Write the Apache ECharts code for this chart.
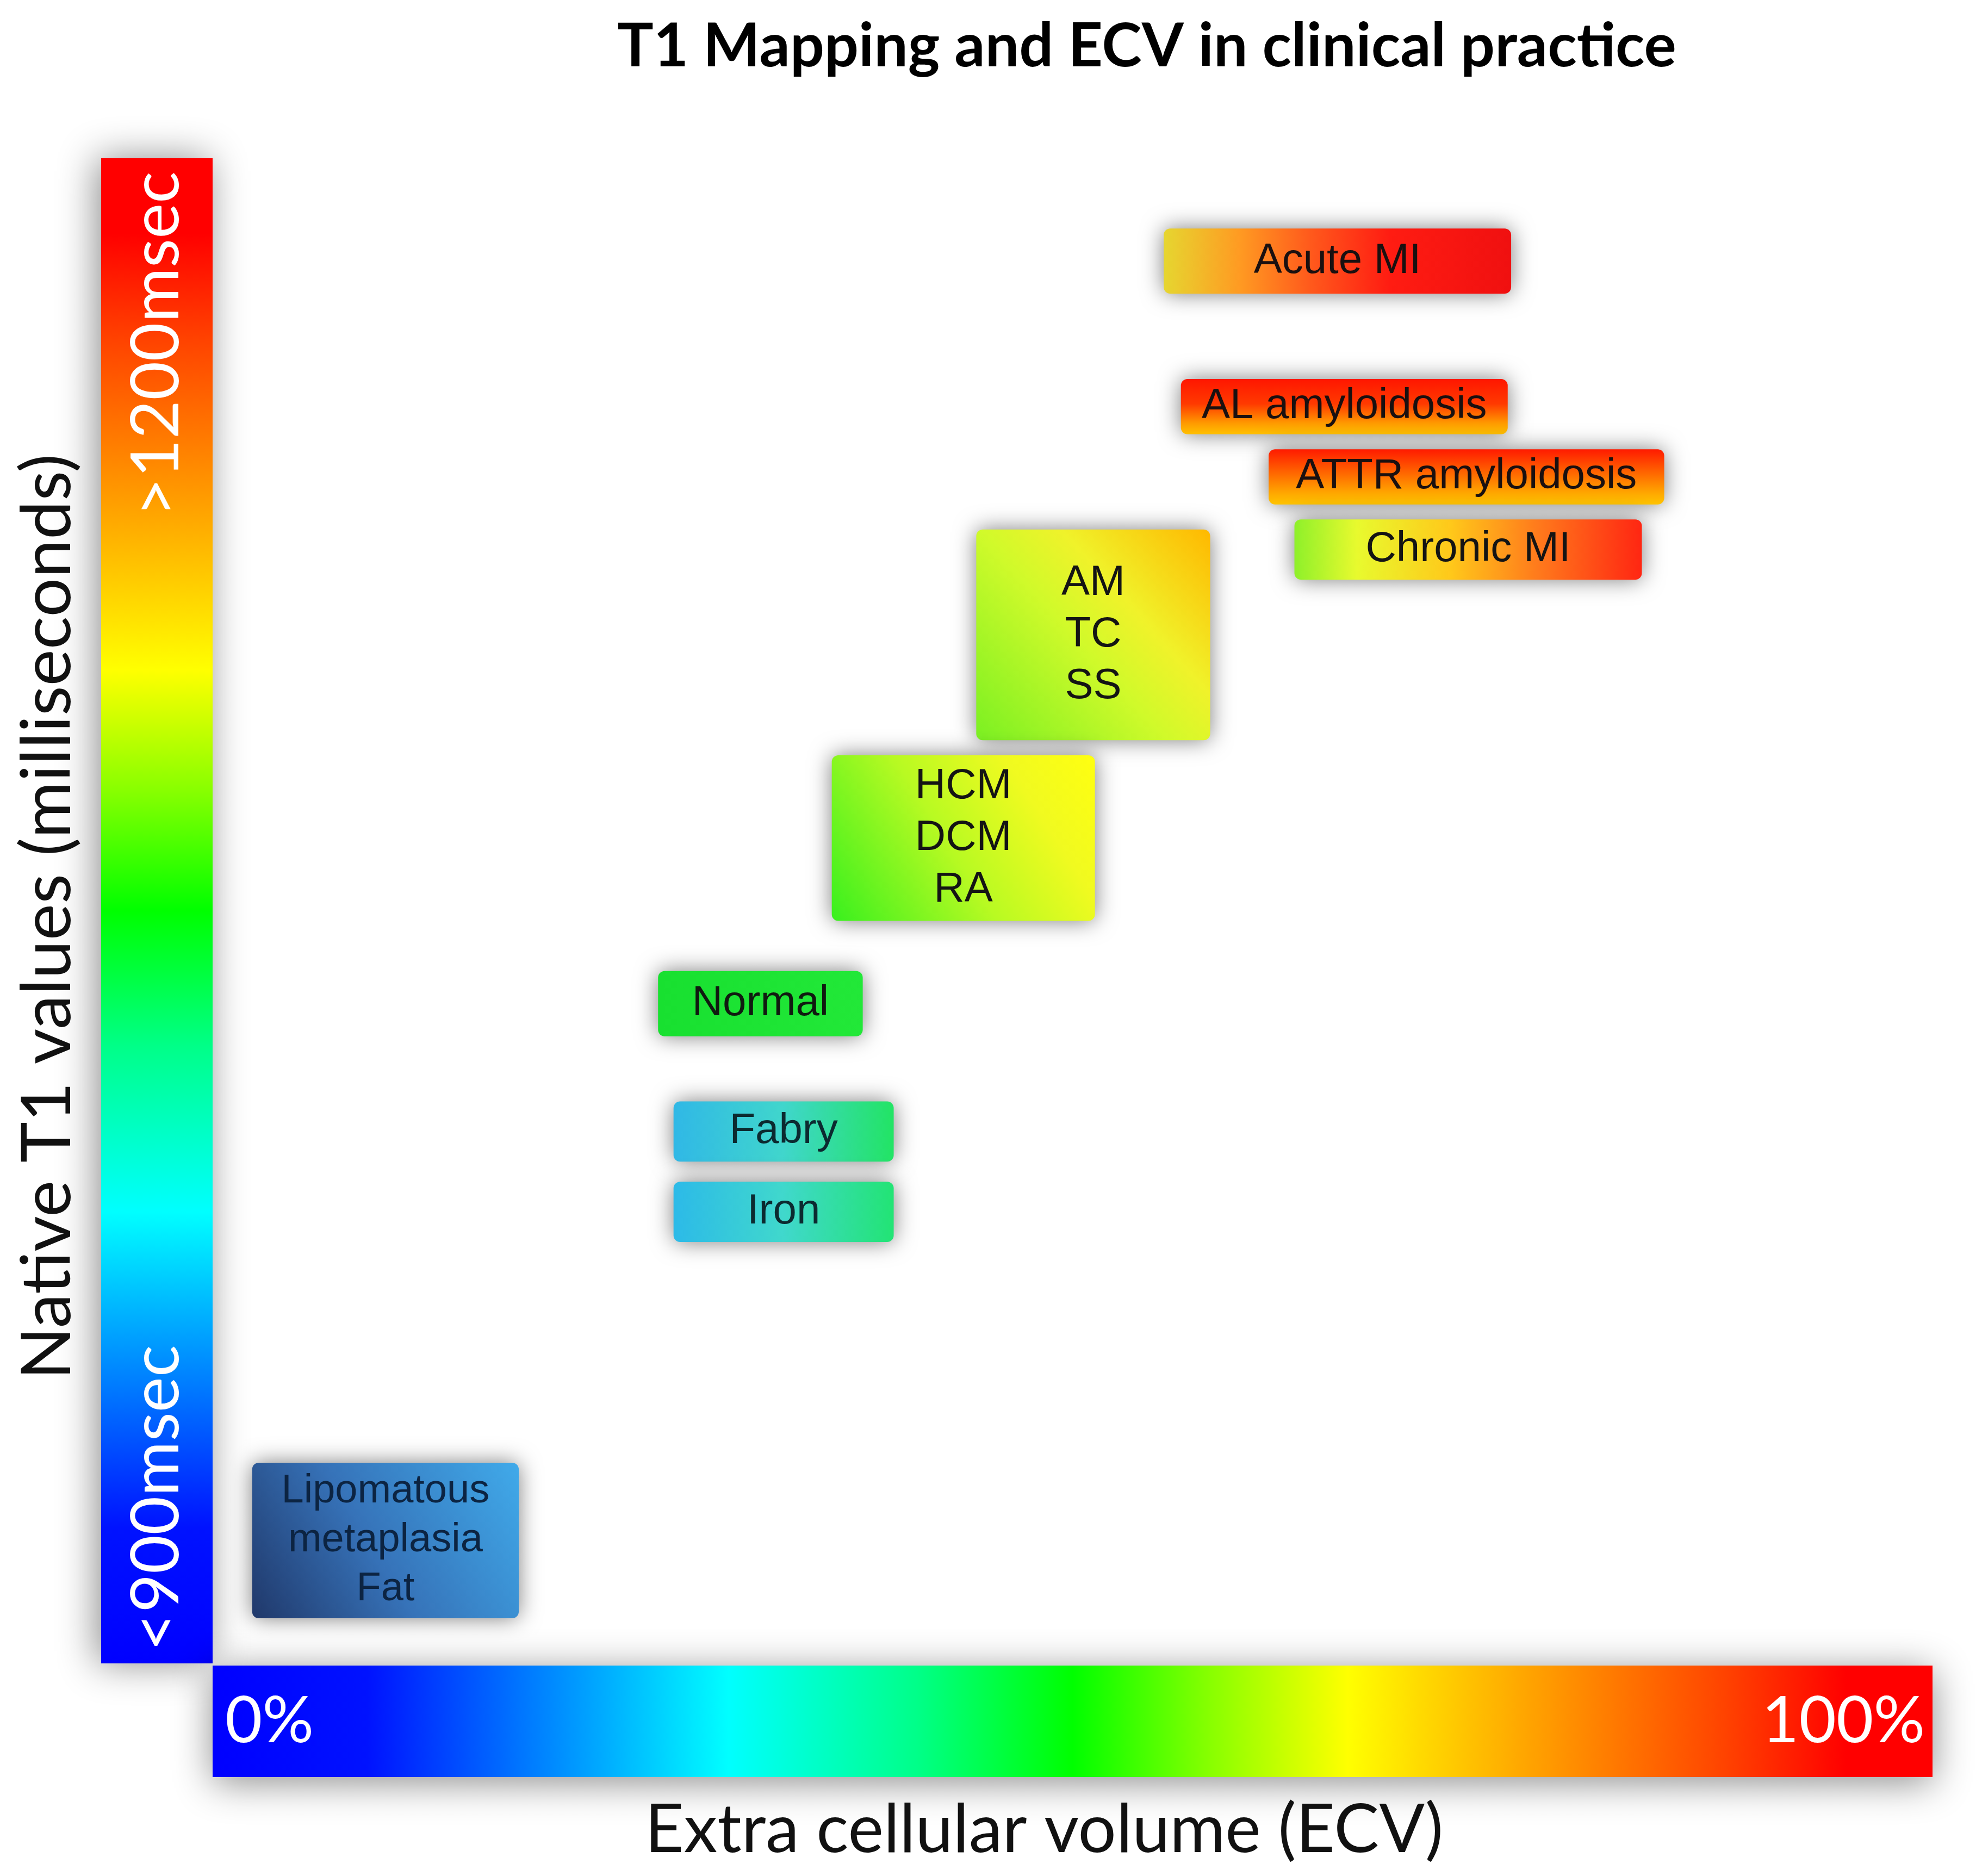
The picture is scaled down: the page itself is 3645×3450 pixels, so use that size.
<!DOCTYPE html>
<html lang="en">
<head>
    <meta charset="UTF-8">
    <title>T1 Mapping and ECV</title>
    <script src="https://cdn.jsdelivr.net/npm/echarts@6/dist/echarts.min.js"></script>
    <style>
        html, body { margin: 0; padding: 0; background: #fff; }
    </style>
</head>
<body>
<div id="main" style="width:3645px;height:3450px;"></div>
<script type="text/javascript">
    // conditions, ECV range (%) and native T1 range (msec)
    var names = ['Acute MI', 'AL amyloidosis', 'ATTR amyloidosis', 'Chronic MI', 'AM\nTC\nSS',
        'HCM\nDCM\nRA', 'Normal', 'Fabry', 'Iron', 'Lipomatous\nmetaplasia\nFat'];
    var ecvLow = [55.3, 56.3, 61.4, 62.9, 44.4, 36.0, 25.9, 26.8, 26.8, 2.3];
    var ecvHigh = [75.5, 75.3, 84.4, 83.1, 58.0, 51.3, 37.8, 39.6, 39.6, 17.8];
    var t1Low = [1173, 1145, 1131, 1116, 1084, 1048, 1025, 1000, 984, 909];
    var t1High = [1186, 1156, 1142, 1128, 1126, 1081, 1038, 1012, 996, 940];

    var ecvMin = 0, ecvMax = 100;
    var t1Min = 900, t1Max = 1200;
    var ecvTicks = ['0%', '100%'];
    var t1Ticks = ['<900msec', '>1200msec'];

    // box fills: gradient direction + stops
    var fills = [
        { d: [0, 0, 1, 0], s: ['#e6d630', 0, '#ff9a22', 0.22, '#ff5a1c', 0.42, '#ff1c12', 0.65, '#f01010', 1] },
        { d: [0, 0, 0, 1], s: ['#ff1600', 0, '#ff3a00', 0.45, '#ff9a00', 0.8, '#ffc000', 1] },
        { d: [0, 0, 0, 1], s: ['#ff1a00', 0, '#ff6a00', 0.45, '#ffa800', 0.8, '#ffc400', 1] },
        { d: [0, 0, 1, 0], s: ['#8ef02a', 0, '#e8fa2e', 0.18, '#ffc81a', 0.45, '#ff7a1c', 0.7, '#ff2612', 1] },
        { d: [0, 1, 1, 0], s: ['#7af022', 0, '#d0fa2a', 0.45, '#f0f22a', 0.65, '#ffb800', 1] },
        { d: [0, 1, 1, 0], s: ['#38f01e', 0, '#b8fa22', 0.45, '#f0fa20', 0.75, '#ffff10', 1] },
        { d: [0, 0, 1, 0], s: ['#18e030', 0, '#22e838', 1] },
        { d: [0, 0, 1, 0], s: ['#30b8e6', 0, '#40d6cc', 0.5, '#22e464', 1] },
        { d: [0, 0, 1, 0], s: ['#2cbae8', 0, '#40d8cc', 0.5, '#22e474', 1] },
        { d: [0, 1, 1, 0], s: ['#20386a', 0, '#3672b8', 0.45, '#40aaea', 1] }
    ];
    var textColors = ['#1a1010', '#1a1010', '#1a1010', '#141414', '#141414', '#141414', '#101a10', '#0c2a30', '#0c2a30', '#0c2442'];

    // rainbow used on both colour bars (0 = low, 1 = high)
    var rainbow = [
        [0, '#0000ff'], [0.09, '#0012ff'], [0.21, '#0098ff'], [0.30, '#00ffff'],
        [0.41, '#00ff88'], [0.50, '#00ff00'], [0.58, '#88ff00'], [0.66, '#ffff00'],
        [0.76, '#ffa800'], [0.88, '#ff4200'], [0.95, '#ff0000'], [1, '#ff0000']
    ];

    function gradient(x, y, x2, y2, stops) {
        var cs = [];
        for (var i = 0; i < stops.length; i += 2)
            cs.push({ offset: stops[i + 1], color: stops[i] });
        return new echarts.graphic.LinearGradient(x, y, x2, y2, cs);
    }
    function rainbowStops() {
        var s = [];
        for (var i = 0; i < rainbow.length; i++) s.push(rainbow[i][1], rainbow[i][0]);
        return s;
    }

    var G = { left: 391, top: 291, width: 3163, height: 2768 };
    var barW = 205;
    var tickFont = '123px Lato';

    var boxData = [];
    for (var i = 0; i < names.length; i++)
        boxData.push([ecvLow[i], ecvHigh[i], t1Low[i], t1High[i]]);

    var myChart = echarts.init(document.getElementById('main'));
    var option = {
        backgroundColor: '#ffffff',
        animation: false,
        title: {
            text: 'T1 Mapping and ECV in clinical practice',
            left: 2104,
            top: 26,
            textAlign: 'center',
            textStyle: { fontFamily: 'Lato', fontWeight: 'bold', fontSize: 111, color: '#000' }
        },
        grid: { left: G.left, top: G.top, width: G.width, height: G.height },
        xAxis: { type: 'value', min: ecvMin, max: ecvMax, show: false },
        yAxis: { type: 'value', min: t1Min, max: t1Max, show: false },
        graphic: [
            {   // vertical T1 bar
                type: 'rect', z: 1,
                shape: { x: G.left - barW, y: G.top, width: barW, height: G.height },
                style: {
                    fill: gradient(0, 1, 0, 0, rainbowStops()),
                    shadowBlur: 70, shadowColor: 'rgba(0,0,0,0.45)', shadowOffsetX: -8
                }
            },
            {   // horizontal ECV bar
                type: 'rect', z: 1,
                shape: { x: G.left, y: G.top + G.height + 4, width: G.width, height: barW },
                style: {
                    fill: gradient(0, 0, 1, 0, rainbowStops()),
                    shadowBlur: 70, shadowColor: 'rgba(0,0,0,0.45)', shadowOffsetY: 10
                }
            },
            {
                type: 'text', z: 3, x: G.left + 23, y: G.top + G.height + 4 + barW / 2,
                style: { text: ecvTicks[0], fill: '#fff', font: '118px Lato', verticalAlign: 'middle', align: 'left' }
            },
            {
                type: 'text', z: 3, x: G.left + G.width - 14, y: G.top + G.height + 4 + barW / 2,
                style: { text: ecvTicks[1], fill: '#fff', font: '118px Lato', verticalAlign: 'middle', align: 'right' }
            },
            {
                type: 'text', z: 3, x: G.left - barW / 2, y: G.top + G.height - 22, rotation: Math.PI / 2,
                style: { text: t1Ticks[0], fill: '#fff', font: tickFont, verticalAlign: 'middle', align: 'left' }
            },
            {
                type: 'text', z: 3, x: G.left - barW / 2, y: 950, rotation: Math.PI / 2,
                style: { text: t1Ticks[1], fill: '#fff', font: tickFont, verticalAlign: 'middle', align: 'left' }
            },
            {   // x axis name
                type: 'text', z: 3, x: 1920, y: 3366,
                style: { text: 'Extra cellular volume (ECV)', fill: '#111', font: '124px Lato', verticalAlign: 'middle', align: 'center' }
            },
            {   // y axis name
                type: 'text', z: 3, x: 88, y: 1686, rotation: Math.PI / 2,
                style: { text: 'Native T1 values (milliseconds)', fill: '#111', font: '127px Lato', verticalAlign: 'middle', align: 'center' }
            }
        ],
        series: [{
            type: 'custom',
            clip: false,
            data: boxData,
            renderItem: function (params, api) {
                var i = params.dataIndex;
                var p0 = api.coord([api.value(0), api.value(3)]);
                var p1 = api.coord([api.value(1), api.value(2)]);
                var f = fills[i];
                return {
                    type: 'rect',
                    shape: { x: p0[0], y: p0[1], width: p1[0] - p0[0], height: p1[1] - p0[1], r: 12 },
                    style: {
                        fill: gradient(f.d[0], f.d[1], f.d[2], f.d[3], f.s),
                        shadowBlur: 40,
                        shadowColor: 'rgba(40,40,40,0.6)'
                    },
                    textContent: {
                        style: {
                            text: names[i],
                            fill: textColors[i],
                            fontFamily: 'Liberation Sans',
                            fontSize: i === 9 ? 74 : 78,
                            lineHeight: i === 9 ? 90 : 95,
                            align: 'center'
                        }
                    },
                    textConfig: { position: 'inside' }
                };
            }
        }]
    };
    myChart.setOption(option);
</script>
</body>
</html>
